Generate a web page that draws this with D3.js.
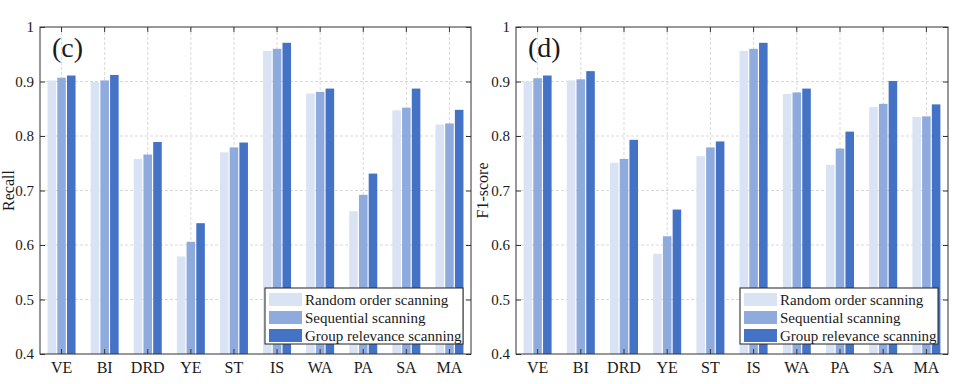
<!DOCTYPE html>
<html>
<head>
<meta charset="utf-8">
<script src="https://cdn.jsdelivr.net/npm/d3@7"></script>
<style>
  body { margin: 0; background: #fff; }
  text { font-family: "Liberation Serif", "Times New Roman", serif; fill: #1a1a1a; }
</style>
</head>
<body>
<script>
// categories and series
var categories = ["VE", "BI", "DRD", "YE", "ST", "IS", "WA", "PA", "SA", "MA"];
var seriesNames = ["Random order scanning", "Sequential scanning", "Group relevance scanning"];
var yTicks = [0.4, 0.5, 0.6, 0.7, 0.8, 0.9, 1];

// (c) Recall
var recallRandom     = [0.902, 0.899, 0.758, 0.579, 0.770, 0.956, 0.878, 0.662, 0.847, 0.821];
var recallSequential = [0.907, 0.902, 0.766, 0.606, 0.779, 0.960, 0.881, 0.692, 0.852, 0.823];
var recallGroup      = [0.911, 0.912, 0.789, 0.640, 0.788, 0.971, 0.887, 0.731, 0.887, 0.848];

// (d) F1-score
var f1Random     = [0.900, 0.902, 0.751, 0.584, 0.763, 0.956, 0.877, 0.747, 0.853, 0.835];
var f1Sequential = [0.906, 0.904, 0.758, 0.616, 0.779, 0.960, 0.880, 0.777, 0.859, 0.836];
var f1Group      = [0.911, 0.919, 0.793, 0.665, 0.790, 0.971, 0.887, 0.808, 0.901, 0.858];

var colors = ["#dae3f3", "#8faadc", "#4472c4"];

var W = 960, H = 384;
var svg = d3.select("body").append("svg")
  .attr("width", W)
  .attr("height", H);

function drawPanel(opt) {
  var top = 27, bottom = 354;
  var left = opt.left, right = opt.right;
  var g = svg.append("g");

  var x = d3.scaleBand().domain(categories).range([left, right]).padding(0);
  var xs = d3.scaleBand().domain(d3.range(3)).range([-14, 14]).paddingInner(0.12);
  var y = d3.scaleLinear().domain([0.4, 1]).range([bottom, top]);

  // grid
  g.append("g").selectAll("line.vg")
    .data(categories).enter().append("line")
    .attr("x1", function(d) { return x(d) + x.bandwidth() / 2; })
    .attr("x2", function(d) { return x(d) + x.bandwidth() / 2; })
    .attr("y1", top).attr("y2", bottom)
    .attr("stroke", "#cfcfcf").attr("stroke-width", 0.8)
    .attr("stroke-dasharray", "3,2");
  g.append("g").selectAll("line.hg")
    .data(yTicks.slice(1, -1)).enter().append("line")
    .attr("x1", left).attr("x2", right)
    .attr("y1", function(d) { return y(d); })
    .attr("y2", function(d) { return y(d); })
    .attr("stroke", "#cfcfcf").attr("stroke-width", 0.8)
    .attr("stroke-dasharray", "3,2");

  // bars
  opt.series.forEach(function(vals, s) {
    g.append("g").selectAll("rect")
      .data(vals).enter().append("rect")
      .attr("x", function(d, i) { return x(categories[i]) + x.bandwidth() / 2 + xs(s); })
      .attr("y", function(d) { return y(d); })
      .attr("width", xs.bandwidth())
      .attr("height", function(d) { return y(0.4) - y(d); })
      .attr("fill", colors[s]);
  });

  // axes, ticks pointing inward
  var fmt = function(d) { return d === 1 ? "1" : d.toFixed(1); };
  g.append("g")
    .attr("transform", "translate(" + left + ",0)")
    .call(d3.axisLeft(y).tickValues(yTicks).tickFormat(fmt).tickSize(-5).tickPadding(6))
    .call(function(a) { a.select(".domain").remove(); })
    .selectAll("text").style("font-size", "15px").attr("font-family", null);
  g.append("g")
    .attr("transform", "translate(" + right + ",0)")
    .call(d3.axisRight(y).tickValues(yTicks).tickFormat("").tickSize(-5))
    .call(function(a) { a.select(".domain").remove(); });
  g.append("g")
    .attr("transform", "translate(0," + bottom + ")")
    .call(d3.axisBottom(x).tickSize(-5).tickPadding(8))
    .call(function(a) { a.select(".domain").remove(); })
    .selectAll("text").style("font-size", "16px").attr("font-family", null);
  g.append("g")
    .attr("transform", "translate(0," + top + ")")
    .call(d3.axisTop(x).tickFormat("").tickSize(-5))
    .call(function(a) { a.select(".domain").remove(); });
  g.selectAll(".tick line").attr("stroke", "#333");

  g.append("rect")
    .attr("x", left).attr("y", top)
    .attr("width", right - left).attr("height", bottom - top)
    .attr("fill", "none").attr("stroke", "#333").attr("stroke-width", 1);

  // panel label
  g.append("text")
    .attr("x", left + 12).attr("y", 57)
    .style("font-size", "28px")
    .text(opt.label);

  // y label
  g.append("text")
    .attr("transform", "translate(" + opt.yLabelX + "," + ((top + bottom) / 2) + ") rotate(-90)")
    .attr("text-anchor", "middle")
    .style("font-size", "16px")
    .text(opt.yLabel);

  // legend
  var lw = 198, lh = 56;
  var lx = right - opt.legendRight - lw, ly = bottom - 10 - lh;
  var lg = g.append("g").attr("transform", "translate(" + lx + "," + ly + ")");
  lg.append("rect")
    .attr("width", lw).attr("height", lh)
    .attr("fill", "#fff").attr("stroke", "#222").attr("stroke-width", 1);
  seriesNames.forEach(function(name, s) {
    lg.append("rect")
      .attr("x", 4).attr("y", 5 + s * 18)
      .attr("width", 33).attr("height", 13)
      .attr("fill", colors[s]);
    lg.append("text")
      .attr("x", 40).attr("y", 17 + s * 18)
      .style("font-size", "15px")
      .text(name);
  });
}

drawPanel({
  left: 40, right: 471, label: "(c)", yLabel: "Recall", yLabelX: 14, legendRight: 8,
  series: [recallRandom, recallSequential, recallGroup]
});
drawPanel({
  left: 516, right: 948, label: "(d)", yLabel: "F1-score", yLabelX: 488, legendRight: 10,
  series: [f1Random, f1Sequential, f1Group]
});
</script>
</body>
</html>
